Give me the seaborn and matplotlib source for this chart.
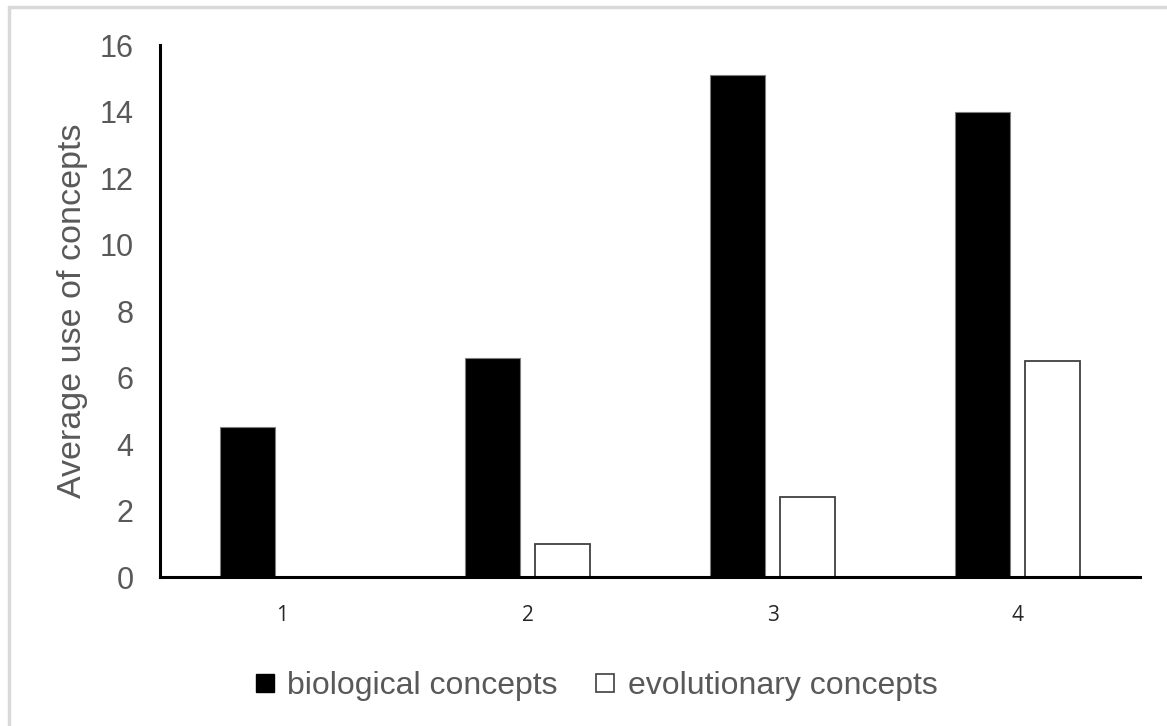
import numpy as np
import pandas as pd
import matplotlib
matplotlib.use("Agg")
import matplotlib.pyplot as plt
import seaborn as sns
from matplotlib.lines import Line2D

# =============================================================================
# DATA
# =============================================================================

groups = ["1", "2", "3", "4"]
biological = [4.5, 6.6, 15.1, 14.0]
evolutionary = [0.0, 1.0, 2.4, 6.5]
series_names = ["biological concepts", "evolutionary concepts"]
y_ticks = [0, 2, 4, 6, 8, 10, 12, 14, 16]

df = pd.DataFrame({
    "group": groups * 2,
    "value": biological + evolutionary,
    "series": [series_names[0]] * 4 + [series_names[1]] * 4,
})

# =============================================================================
# PLOT
# =============================================================================

sns.set_style("white")
plt.rcParams['font.family'] = ['Liberation Sans', 'DejaVu Sans']

fig = plt.figure(figsize=(11.67, 7.26), dpi=100)
ax = fig.add_axes([0.137, 0.2052, 0.840, 0.7328])

sns.barplot(data=df, x="group", y="value", hue="series", order=groups,
            hue_order=series_names, palette=["black", "white"],
            width=0.57, gap=0.21, ax=ax, legend=False)

# bar edges
for p in ax.patches:
    fc = p.get_facecolor()
    if fc[0] > 0.5:
        p.set_edgecolor("#404040")
        p.set_linewidth(1.3)
    else:
        p.set_edgecolor("#7f7f7f")
        p.set_linewidth(0.8)

ax.set_xlim(-0.5, 3.5)
ax.set_ylim(0, 16)
ax.set_yticks(y_ticks)
ax.tick_params(axis="y", labelsize=22, colors="#595959", length=0, pad=19)
ax.tick_params(axis="x", labelsize=15, colors="#262626", length=0, pad=20)
for lbl in ax.get_xticklabels():
    lbl.set_family(["Open Sans", "DejaVu Sans"])

ax.set_xlabel("")
ax.set_ylabel("Average use of concepts", fontsize=24.5, color="#595959", labelpad=8)

for side in ["top", "right"]:
    ax.spines[side].set_visible(False)
for side in ["left", "bottom"]:
    ax.spines[side].set_color("black")
    ax.spines[side].set_linewidth(2.2)

# legend at the bottom
handles = [
    Line2D([], [], marker="s", linestyle="", markersize=13,
           markerfacecolor="black", markeredgecolor="black"),
    Line2D([], [], marker="s", linestyle="", markersize=13,
           markerfacecolor="white", markeredgecolor="#404040", markeredgewidth=1.2),
]
leg = fig.legend(handles, series_names, loc="center", ncol=2,
                 bbox_to_anchor=(0.511, 0.055), frameon=False,
                 fontsize=23, handlelength=0.6, handletextpad=0.4,
                 columnspacing=1.2)
for t in leg.get_texts():
    t.set_color("#595959")

# light gray frame lines (top and left)
fig.add_artist(Line2D([9 / 1167, 1.0], [1 - 7 / 726, 1 - 7 / 726],
                      transform=fig.transFigure, color="#d9d9d9", linewidth=2.5))
fig.add_artist(Line2D([9 / 1167, 9 / 1167], [0.0, 1 - 7 / 726],
                      transform=fig.transFigure, color="#d9d9d9", linewidth=2.5))

fig.savefig("out.png", dpi=100)
